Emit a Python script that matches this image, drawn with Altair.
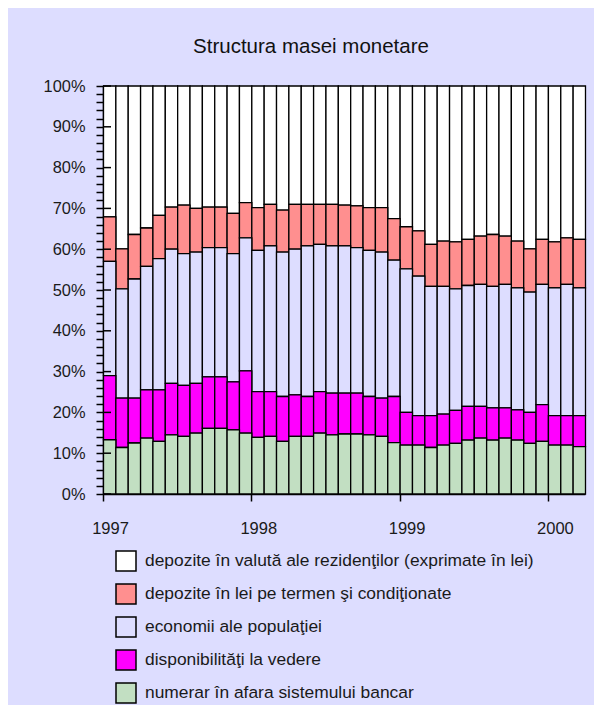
import altair as alt
import pandas as pd

# ---- data (percent shares of money supply, monthly Jan 1997 - Mar 2000) ----
months = [f"{y}-{m:02d}" for y in range(1997, 2001) for m in range(1, 13)][:39]

numerar = [13.3, 11.4, 12.5, 13.7, 12.9, 14.5, 14.1, 14.9, 16.1, 16.1, 15.7, 14.9,
           13.9, 14.1, 12.9, 14.1, 14.1, 14.9, 14.5, 14.7, 14.7, 14.5, 14.1, 12.6,
           12.0, 12.0, 11.4, 12.0, 12.4, 13.2, 13.7, 13.2, 13.7, 13.2, 12.4, 12.9,
           12.0, 12.0, 11.6]
disponibilitati = [15.7, 12.1, 11.0, 11.8, 12.6, 12.6, 12.5, 12.2, 12.6, 12.6, 11.8, 15.3,
                   11.2, 11.0, 11.0, 10.2, 9.8, 10.2, 10.2, 10.0, 10.0, 9.4, 9.4, 11.3,
                   8.0, 7.2, 7.8, 7.6, 8.1, 8.3, 7.8, 7.9, 7.4, 7.4, 7.6, 9.0,
                   7.2, 7.2, 7.6]
economii = [28.0, 26.8, 29.2, 30.3, 32.2, 32.9, 32.3, 32.2, 31.7, 31.7, 31.4, 32.6,
            34.6, 35.7, 35.4, 35.7, 36.9, 36.1, 36.1, 36.1, 35.7, 35.8, 35.8, 33.4,
            35.2, 34.2, 31.7, 31.3, 29.8, 29.6, 29.9, 29.8, 30.3, 29.9, 29.5, 29.5,
            31.3, 32.2, 31.3]
depozite_lei = [10.9, 9.8, 10.9, 9.4, 10.6, 10.3, 11.9, 10.7, 9.9, 9.9, 9.9, 8.6,
                10.5, 10.2, 10.3, 11.0, 10.2, 9.8, 10.2, 10.0, 10.2, 10.5, 10.9, 10.2,
                10.3, 11.1, 10.3, 11.1, 11.5, 11.3, 11.8, 12.7, 11.8, 11.5, 10.6, 11.0,
                11.3, 11.4, 11.9]
depozite_valuta = [32.1, 39.9, 36.4, 34.8, 31.7, 29.7, 29.2, 30.0, 29.7, 29.7, 31.2, 28.6,
                   29.8, 29.0, 30.4, 29.0, 29.0, 29.0, 29.0, 29.2, 29.4, 29.8, 29.8, 32.5,
                   34.5, 35.5, 38.8, 38.0, 38.2, 37.6, 36.8, 36.4, 36.8, 38.0, 39.9, 37.6,
                   38.2, 37.2, 37.6]

series_names = [
    "depozite în valută ale rezidenţilor (exprimate în lei)",
    "depozite în lei pe termen şi condiţionate",
    "economii ale populaţiei",
    "disponibilităţi la vedere",
    "numerar în afara sistemului bancar",
]
series_colors = ["#FFFFFF", "#FF8F8F", "#DDDDFF", "#FF00FF", "#C2DFC2"]
series_values = [depozite_valuta, depozite_lei, economii, disponibilitati, numerar]

year_labels = ["1997", "1998", "1999", "2000"]
year_positions = [0, 12, 24, 36]
major_ticks = [0, 10, 20, 30, 40, 50, 60, 70, 80, 90, 100]

rows = []
for s_idx, (name, vals) in enumerate(zip(series_names, series_values)):
    for i, (m, v) in enumerate(zip(months, vals)):
        rows.append({"month": m, "i": i, "i2": i + 1, "series": name,
                     "value": v, "ord": len(series_names) - 1 - s_idx})
df = pd.DataFrame(rows)
ticks_df = pd.DataFrame({"t": major_ticks})

FONT = "Liberation Sans"
label_map = "{" + ",".join(f"'{p}':'{l}'" for p, l in zip(year_positions, year_labels)) + "}"

y_axis = alt.Axis(values=[k / 50 for k in range(51)],
                  labelExpr="round(datum.value*100) % 10 === 0 ? round(datum.value*100) + '%' : ''",
                  title=None, grid=False, tickSize=7, tickWidth=1.5,
                  tickColor="black", domainColor="black", domainWidth=1.5,
                  labelFont=FONT, labelFontSize=16.4, labelColor="#1a1a1a",
                  labelPadding=11, labelOverlap=False, labelBound=False)
y_scale = alt.Scale(domain=[0, 1], nice=False)

bars = alt.Chart(df).mark_bar(stroke="black", strokeWidth=1.3, binSpacing=0).encode(
    x=alt.X("i:Q", bin="binned", scale=alt.Scale(domain=[0, 39], nice=False, zero=False),
            axis=alt.Axis(values=year_positions, labelExpr=label_map + "[datum.value]",
                          title=None, grid=False, tickSize=7, tickWidth=1.5,
                          tickColor="black", domainColor="black", domainWidth=1.5,
                          labelFont=FONT, labelFontSize=16.5, labelColor="#1a1a1a",
                          labelPadding=19, labelOffset=7, labelFlush=False,
                          labelOverlap=False)),
    x2="i2:Q",
    y=alt.Y("value:Q", stack="normalize", scale=y_scale, axis=y_axis),
    color=alt.Color("series:N",
                    scale=alt.Scale(domain=series_names, range=series_colors),
                    legend=alt.Legend(title=None, orient="none", legendX=12, legendY=464,
                                      direction="vertical", symbolType="square",
                                      symbolSize=400, symbolStrokeColor="black",
                                      symbolStrokeWidth=1.5, symbolOpacity=1,
                                      labelFont=FONT, labelFontSize=17.4, labelColor="#1a1a1a",
                                      labelLimit=600, labelOffset=8, rowPadding=7,
                                      padding=0)),
    order=alt.Order("ord:Q", sort="ascending"),
)

inner_ticks = alt.Chart(ticks_df).transform_calculate(
    tf="datum.t / 100"
).mark_rule(color="black", strokeWidth=1.5).encode(
    y=alt.Y("tf:Q", scale=y_scale, axis=y_axis),
    x=alt.value(0),
    x2=alt.value(8),
)

chart = alt.layer(bars, inner_ticks).properties(
    width=482,
    height=408,
    autosize=alt.AutoSizeParams(type="none"),
    padding={"left": 95, "top": 78, "right": 9, "bottom": 211},
    title=alt.TitleParams("Structura masei monetare", font=FONT, fontSize=20.5,
                          fontWeight="normal", color="#111", anchor="middle",
                          offset=21, dx=-33),
).configure(background="#DDDDFF").configure_view(strokeWidth=0)

chart.save("out.html", embed_options={"renderer": "svg", "actions": False})
